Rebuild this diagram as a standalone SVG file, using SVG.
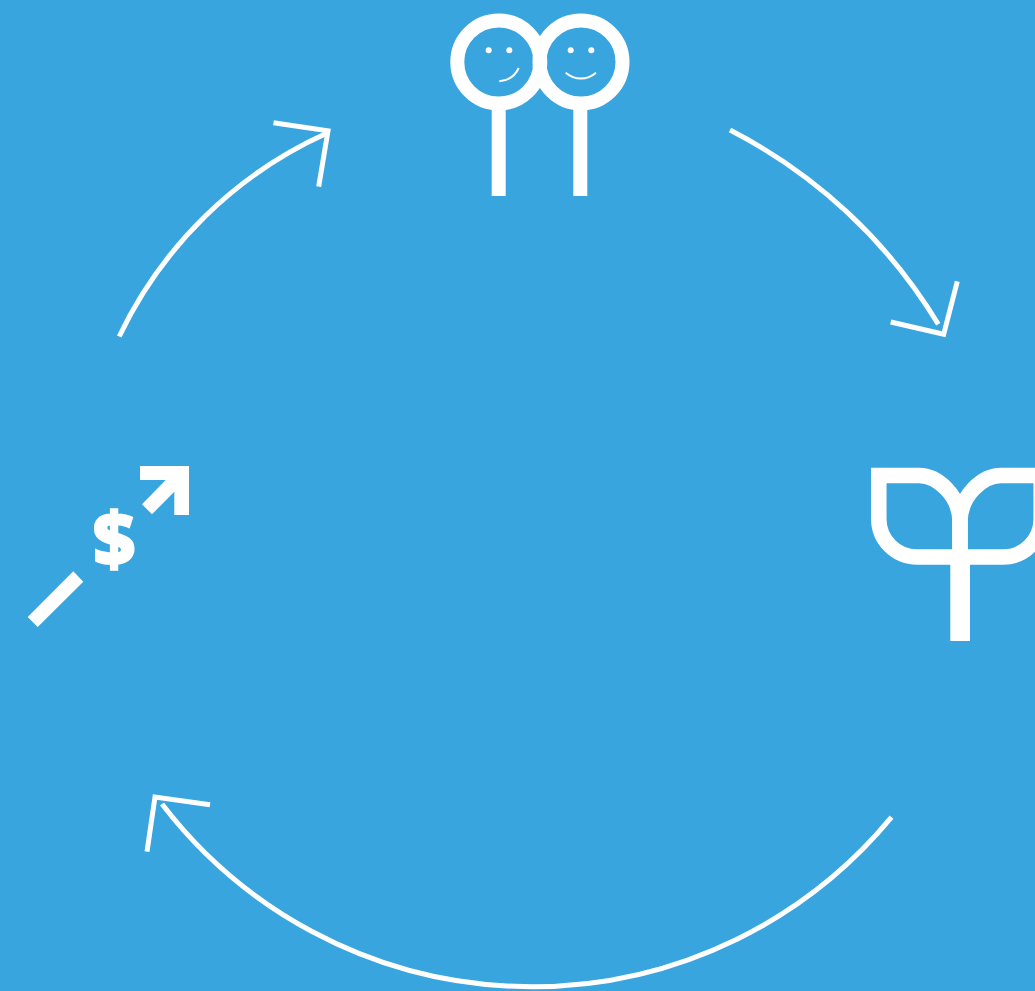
<svg xmlns="http://www.w3.org/2000/svg" width="1035" height="991" viewBox="0 0 1035 991">
<style>
.line{fill:none;stroke:#fff;stroke-width:5;stroke-linejoin:miter;stroke-miterlimit:10}
.ring{fill:none;stroke:#fff;stroke-width:14}
.leaf{fill:none;stroke:#fff;stroke-width:15.5;stroke-miterlimit:10}
.mouth{fill:none;stroke:#fff;stroke-width:2}
.solid{fill:#fff}
</style>
<rect width="1035" height="991" fill="#39a5df"/>
<g id="connectors">
<path class="line" d="M119.2 336.5A422 422 0 0 1 326.7 133.3"/>
<polyline class="line" points="273.5,122.7 328,130.8 318.7,186.7"/>
<path class="line" d="M730 130A522 522 0 0 1 938.3 324.3"/>
<polyline class="line" points="890.7,322 943.7,334.3 957.3,281.3"/>
<path class="line" d="M891.5 817.2A466 466 0 0 1 162 804"/>
<polyline class="line" points="210,804.7 155,797 147,851.7"/>
</g>
<g id="people">
<rect class="solid" x="491.7" y="104" width="14" height="92"/>
<rect class="solid" x="573.3" y="104" width="14" height="92"/>
<circle class="ring" cx="498.8" cy="62" r="41.5"/>
<circle class="ring" cx="581" cy="62" r="41.5"/>
<circle class="solid" cx="488.7" cy="50.3" r="3"/>
<circle class="solid" cx="509.3" cy="50.3" r="3"/>
<circle class="solid" cx="570.7" cy="50.3" r="3"/>
<circle class="solid" cx="591.3" cy="50.3" r="3"/>
<path class="mouth" d="M499.3 81.3C509 80.5 515 76 518.7 68"/>
<path class="mouth" d="M565.7 72.7C575 80.5 587 80.5 596 72.7"/>
</g>
<g id="plant">
<path class="leaf" d="M878.8 475.5H919C937 475.5 960 495 960 522V557H917C896 557 878.8 540 878.8 519Z"/>
<path class="leaf" d="M1041.2 475.5H1001C983 475.5 960 495 960 522V557H1003C1024 557 1041.2 540 1041.2 519Z"/>
<rect class="solid" x="950.3" y="557" width="19.7" height="84"/>
</g>
<g id="growth">
<polygon class="solid" points="140,466 189,466 189,515 174.3,515 174.3,491.7 152,514.3 142,504.3 165.7,480 140,480"/>
<polygon class="solid" points="73.3,571.3 83.3,581.7 37.7,627 27.7,617"/>
<text x="114" y="565.5" text-anchor="middle" font-family="'Open Sans', Inter, sans-serif" font-weight="800" font-size="74" fill="#fff" stroke="#fff" stroke-width="1.5">$</text>
</g>
</svg>
